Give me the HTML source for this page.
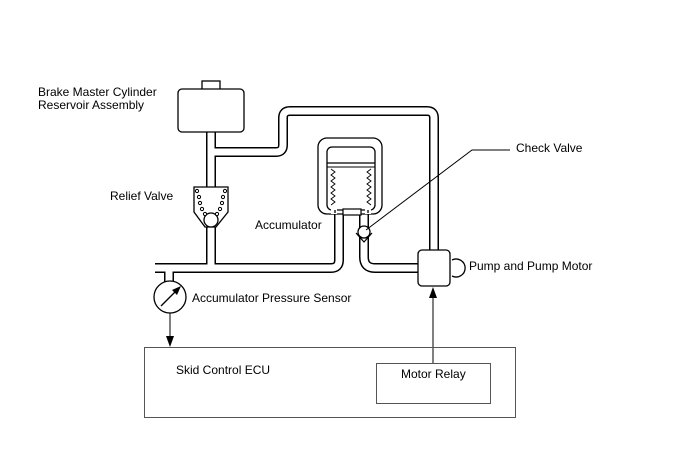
<!DOCTYPE html>
<html><head><meta charset="utf-8"><style>
html,body{margin:0;padding:0;background:#fff;}
svg{display:block;font-family:"Liberation Sans",sans-serif;font-size:12px;}
</style></head><body>
<svg width="688" height="463" viewBox="0 0 688 463" xmlns="http://www.w3.org/2000/svg">
<rect width="688" height="463" fill="#fff"/>
<g fill="none" stroke-linejoin="round">
<!-- black pipe outlines -->
<g stroke="#000" stroke-width="10">
<path d="M211 132 V268"/>
<path d="M211 152 H276 Q283 152 283 145 V118 Q283 111 290 111 H427 Q434 111 434 118 V251"/>
<path d="M155 268 H331 Q339 268 339 260 V212"/>
<path d="M364 212 V257 Q364 268 375 268 H419"/>
<path d="M169 268 V282"/>
</g>
<g stroke="#fff" stroke-width="7">
<path d="M211 131 V268.5"/>
<path d="M211 152 H276 Q283 152 283 145 V118 Q283 111 290 111 H427 Q434 111 434 118 V252"/>
<path d="M154 268 H331 Q339 268 339 260 V211"/>
<path d="M364 211 V257 Q364 268 375 268 H420"/>
<path d="M169 266 V283"/>
</g>
</g>
<!-- reservoir -->
<rect x="202" y="81" width="18" height="9" fill="#fff" stroke="#000" stroke-width="1.3"/>
<rect x="178" y="89" width="66" height="43" rx="4" fill="#fff" stroke="#000" stroke-width="1.3"/>
<!-- relief valve -->
<path d="M194 187 H228 V212 L216 227 H205 L194 212 Z" fill="#fff" stroke="#000" stroke-width="1.3"/>
<circle cx="211" cy="220" r="7" fill="#fff" stroke="#000" stroke-width="1.3"/>
<g fill="#fff" stroke="#000" stroke-width="1">
<circle cx="197" cy="191" r="1.6"/><circle cx="199" cy="197" r="1.6"/><circle cx="200" cy="203" r="1.6"/><circle cx="202" cy="209" r="1.6"/><circle cx="205" cy="214" r="1.6"/>
<circle cx="225" cy="191" r="1.6"/><circle cx="223" cy="197" r="1.6"/><circle cx="222" cy="203" r="1.6"/><circle cx="220" cy="209" r="1.6"/><circle cx="217" cy="214" r="1.6"/>
</g>
<!-- accumulator -->
<rect x="318" y="138" width="64" height="76" rx="9" fill="#fff" stroke="#000" stroke-width="1.3"/>
<rect x="327" y="147" width="48" height="63" rx="5" fill="#fff" stroke="#000" stroke-width="1.3"/>
<line x1="327" y1="163" x2="375" y2="163" stroke="#000" stroke-width="1.2"/>
<line x1="327" y1="167" x2="375" y2="167" stroke="#000" stroke-width="1"/>
<path d="M334 209 V214 M368 209 V214" stroke="#fff" stroke-width="6"/>
<rect x="343" y="209" width="18" height="6" fill="#fff" stroke="#000" stroke-width="1.2"/>
<path d="M335 213 V210 M368 213 V210" stroke="#000" stroke-width="1.3"/>
<g fill="none" stroke="#000" stroke-width="0.9">
<path d="M331 169 l4 3 l-4 3 l4 3 l-4 3 l4 3 l-4 3 l4 3 l-4 3 l4 3 l-4 3 l4 3 l-4 3"/>
<path d="M371 169 l-4 3 l4 3 l-4 3 l4 3 l-4 3 l4 3 l-4 3 l4 3 l-4 3 l4 3 l-4 3 l4 3"/>
</g>
<!-- check valve -->
<circle cx="364" cy="232" r="6" fill="#fff" stroke="#000" stroke-width="1.3"/>
<path d="M356 233 L364 242 L372 233" fill="none" stroke="#000" stroke-width="1.2"/>
<polyline points="366,230 472,150 510,150" fill="none" stroke="#000" stroke-width="1"/>
<!-- pump -->
<path d="M452 260 A9 9 0 1 1 452 276" fill="#fff" stroke="#000" stroke-width="1.3"/>
<rect x="418" y="250" width="32" height="36" rx="4" fill="#fff" stroke="#000" stroke-width="1.3"/>
<!-- sensor -->
<circle cx="170" cy="297" r="16" fill="#fff" stroke="#000" stroke-width="1.3"/>
<line x1="161" y1="306" x2="178" y2="289" stroke="#000" stroke-width="1.3"/>
<path d="M181 286 L172 290 L177 295 Z" fill="#000"/>
<!-- arrows -->
<line x1="170" y1="313" x2="170" y2="337" stroke="#000" stroke-width="1"/>
<path d="M166 336 L170 347 L174 336 Z" fill="#000"/>
<line x1="433" y1="363" x2="433" y2="297" stroke="#000" stroke-width="1"/>
<path d="M429 298 L433 287 L437 298 Z" fill="#000"/>
<!-- ECU -->
<rect x="144.5" y="347.5" width="371" height="70" fill="none" stroke="#555" stroke-width="1"/>
<rect x="376.5" y="363.5" width="114" height="40" fill="none" stroke="#555" stroke-width="1"/>
<!-- labels -->
<g fill="#000">
<text x="38" y="96">Brake Master Cylinder</text>
<text x="38" y="109">Reservoir Assembly</text>
<text x="110" y="200">Relief Valve</text>
<text x="255" y="229">Accumulator</text>
<text x="516" y="152">Check Valve</text>
<text x="469" y="270">Pump and Pump Motor</text>
<text x="192" y="302">Accumulator Pressure Sensor</text>
<text x="176" y="374">Skid Control ECU</text>
<text x="401" y="378">Motor Relay</text>
</g>
</svg>
</body></html>
